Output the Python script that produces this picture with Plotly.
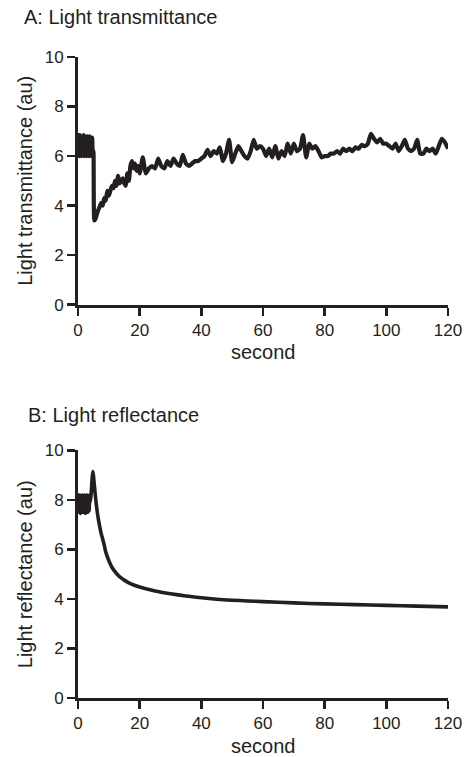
import plotly.graph_objects as go

# ---------------- data ----------------
# Panel A: light transmittance (au) vs time (s)
trans_time = [
    0.0, 0.2, 0.4, 0.6, 0.8, 1.0, 1.2, 1.4, 1.6, 1.8, 2.0, 2.2, 2.4, 2.6, 2.8,
    3.0, 3.2, 3.4, 3.6, 3.8, 4.0, 4.2, 4.4, 4.6, 4.8,
    5.0, 5.3, 5.6, 6.0, 6.5, 7.0, 7.5, 8.0, 8.5, 9.0, 9.5, 10.0, 10.5, 11.0,
    11.5, 12.0, 12.5, 13.0, 13.5, 14.0, 14.5, 15.0, 15.5, 16.0, 16.5, 17.0,
    17.5, 18.0, 18.5, 19.0, 19.5, 20.0, 21.0, 21.5, 22.0, 23.0, 24.0, 25.0,
    26.0, 27.0, 28.0, 29.0, 30.0, 31.0, 32.0, 33.0, 34.0, 35.0, 36.0, 37.0,
    38.0, 39.0, 40.0, 41.0, 42.0, 43.0, 44.0, 45.0, 46.0, 47.0, 48.0, 49.0,
    50.0, 51.0, 52.0, 53.0, 54.0, 55.0, 56.0, 57.0, 58.0, 59.0, 60.0, 61.0,
    62.0, 63.0, 64.0, 65.0, 66.0, 67.0, 68.0, 69.0, 70.0, 71.0, 72.0, 73.0,
    74.0, 75.0, 76.0, 77.0, 78.0, 79.0, 80.0, 81.0, 82.0, 83.0, 84.0, 85.0,
    86.0, 87.0, 88.0, 89.0, 90.0, 91.0, 92.0, 93.0, 94.0, 95.0, 96.0, 97.0,
    98.0, 99.0, 100.0, 101.0, 102.0, 103.0, 104.0, 105.0, 106.0, 107.0,
    108.0, 109.0, 110.0, 111.0, 112.0, 113.0, 114.0, 115.0, 116.0, 117.0,
    118.0, 119.0, 120.0,
]
trans_value = [
    6.1, 6.85, 6.0, 6.85, 6.05, 6.8, 6.0, 6.75, 6.1, 6.85, 6.0, 6.8, 6.05,
    6.7, 6.0, 6.8, 6.1, 6.75, 6.0, 6.8, 6.05, 6.7, 6.0, 6.75, 6.1,
    6.2, 3.4, 3.45, 3.6, 3.8, 3.95, 4.1, 4.0, 4.3, 4.2, 4.6, 4.4, 4.6, 4.8,
    4.7, 5.0, 4.8, 5.2, 4.9, 5.0, 5.1, 4.9, 4.8, 5.3, 5.0, 5.6,
    5.8, 5.5, 5.7, 5.4, 5.6, 5.3, 5.95, 5.6, 5.3, 5.5, 5.6, 5.5,
    5.9, 5.6, 5.5, 5.8, 5.6, 5.9, 5.7, 5.6, 6.05, 5.7, 5.6, 5.7,
    5.8, 5.8, 5.9, 6.0, 6.25, 6.0, 6.2, 6.1, 6.35, 5.8, 6.1, 6.65,
    5.75, 6.1, 6.4, 6.2, 6.0, 5.9, 6.2, 6.65, 6.3, 6.4, 6.3, 6.0,
    6.3, 5.95, 6.4, 5.9, 6.2, 6.0, 6.5, 6.1, 6.5, 6.2, 6.3, 6.85,
    5.95, 6.5, 6.3, 6.4, 6.2, 5.95, 6.0, 6.0, 6.1, 6.1, 6.2, 6.1,
    6.3, 6.2, 6.3, 6.2, 6.35, 6.3, 6.45, 6.4, 6.5, 6.9, 6.7, 6.55,
    6.7, 6.5, 6.5, 6.4, 6.3, 6.5, 6.2, 6.4, 6.65, 6.3, 6.2, 6.3,
    6.65, 6.1, 6.1, 6.3, 6.2, 6.3, 6.1, 6.4, 6.7, 6.55, 6.3,
]

# Panel B: light reflectance (au) vs time (s)
refl_time = [
    0.0, 0.2, 0.4, 0.6, 0.8, 1.0, 1.2, 1.4, 1.6, 1.8, 2.0, 2.2, 2.4, 2.6, 2.8,
    3.0, 3.2, 3.4, 3.6, 3.8, 4.0,
    4.3, 4.6, 4.8, 5.0, 5.3, 5.6, 6.0, 6.5, 7.0, 7.5, 8.0, 8.5, 9.0, 10.0,
    11.0, 12.0, 13.0, 14.0, 15.0, 17.0, 20.0, 22.0, 25.0, 30.0, 35.0, 40.0,
    45.0, 50.0, 55.0, 60.0, 70.0, 80.0, 90.0, 100.0, 110.0, 120.0,
]
refl_value = [
    7.6, 8.2, 7.5, 8.2, 7.45, 8.15, 7.5, 8.2, 7.5, 8.1, 7.5, 8.2, 7.45,
    8.15, 7.5, 8.2, 7.5, 8.1, 7.55, 8.2, 7.9,
    8.3, 8.9, 9.15, 9.0, 8.6, 8.2, 7.75, 7.3, 6.95, 6.65, 6.42, 6.18, 5.9, 5.55,
    5.28, 5.1, 4.96, 4.85, 4.76, 4.62, 4.48, 4.41, 4.32, 4.21, 4.12, 4.05,
    3.99, 3.95, 3.92, 3.89, 3.84, 3.80, 3.77, 3.74, 3.71, 3.68,
]

x_ticks = [0, 20, 40, 60, 80, 100, 120]
y_ticks = [0, 2, 4, 6, 8, 10]
panel_titles = ["A: Light transmittance", "B: Light reflectance"]
y_titles = ["Light transmittance (au)", "Light reflectance (au)"]
x_title = "second"

# ---------------- style ----------------
ink = "#231f20"
font_family = "Liberation Sans, Arial, Helvetica, sans-serif"
tick_fs = 17
title_fs = 20

fig = go.Figure()
fig.add_trace(go.Scatter(x=trans_time, y=trans_value, mode="lines",
                         line=dict(color=ink, width=4.2, shape="spline", smoothing=0.5),
                         xaxis="x", yaxis="y", showlegend=False))
fig.add_trace(go.Scatter(x=refl_time, y=refl_value, mode="lines",
                         line=dict(color=ink, width=3.6, shape="spline", smoothing=0.6),
                         xaxis="x2", yaxis="y2", showlegend=False))

def xax(anchor):
    return dict(anchor=anchor, domain=[0, 1], range=[0, 120], tickvals=x_ticks,
                showline=True, linewidth=3, linecolor=ink, ticks="outside",
                ticklen=8, tickwidth=2.5, tickcolor=ink, showgrid=False,
                zeroline=False, automargin=False,
                tickfont=dict(size=tick_fs, color=ink, family=font_family))

def yax(anchor, dom):
    return dict(anchor=anchor, domain=dom, range=[0, 10], tickvals=y_ticks,
                showline=True, linewidth=3, linecolor=ink, ticks="outside",
                ticklen=8, tickwidth=2.5, tickcolor=ink, showgrid=False,
                zeroline=False, automargin=False,
                tickfont=dict(size=tick_fs, color=ink, family=font_family))

tfont = dict(size=title_fs, color=ink, family=font_family)
annotations = [
    dict(text=panel_titles[0], x=-0.151, y=1.063, xanchor="left", yanchor="middle"),
    dict(text=panel_titles[1], x=-0.1405, y=0.442, xanchor="left", yanchor="middle"),
    dict(text=y_titles[0], x=-0.1432, y=0.8068, xanchor="center", yanchor="middle",
         textangle=-90),
    dict(text=y_titles[1], x=-0.1432, y=0.19315, xanchor="center", yanchor="middle",
         textangle=-90),
    dict(text=x_title, x=0.5, y=0.5403, xanchor="center", yanchor="middle"),
    dict(text=x_title, x=0.5, y=-0.0755, xanchor="center", yanchor="middle"),
]
for a in annotations:
    a.update(xref="paper", yref="paper", showarrow=False, font=tfont)

fig.update_layout(
    width=467, height=757,
    margin=dict(l=78, r=19, t=57, b=59),
    paper_bgcolor="white", plot_bgcolor="white",
    font=dict(family=font_family, color=ink, size=tick_fs),
    xaxis=xax("y"),
    yaxis=yax("x", [0.6136, 1.0]),
    xaxis2=xax("y2"),
    yaxis2=yax("x2", [0.0, 0.3863]),
    annotations=annotations,
    hovermode=False,
)

# remove the browser's default 8px page margin so the figure fills the window
fig.write_html(
    "out.html",
    config={"displayModeBar": False, "staticPlot": True},
    post_script="document.body.style.margin='0px';document.body.style.overflow='hidden';",
)
